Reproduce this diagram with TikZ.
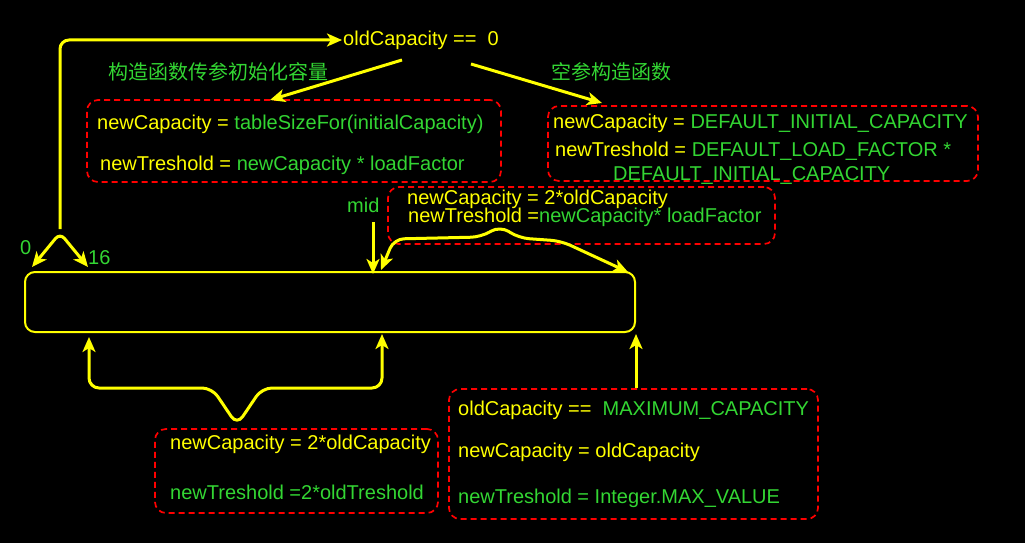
\documentclass[tikz,border=0pt]{standalone}
\usepackage{fontspec}
\setmainfont{Liberation Sans}
\newfontfamily\cjk{Noto Sans CJK SC}
\usetikzlibrary{arrows.meta}
\definecolor{yel}{RGB}{255,255,0}
\definecolor{grn}{RGB}{51,214,51}
\definecolor{dred}{RGB}{255,0,0}
\begin{document}
\begin{tikzpicture}[x=1pt,y=-1pt,
  yl/.style={draw=yel, line width=3pt, line join=round},
  tip/.tip={Stealth[length=15pt,width=13pt,inset=4pt]},
  arr/.style={yl, -tip},
  arrb/.style={yl, tip-tip},
  dbox/.style={draw=dred, line width=1.7pt, dash pattern=on 6pt off 4pt, rounded corners=11pt, inner sep=0pt},
  txt/.style={anchor=base west, inner sep=0pt, text=yel, font=\fontsize{20}{24}\selectfont},
  gtxt/.style={txt, text=grn},
  ctxt/.style={anchor=base west, inner sep=0pt, text=grn, font=\fontsize{20}{24}\selectfont\cjk}]
\fill[black] (0,0) rectangle (1025,543);
\useasboundingbox (0,0) rectangle (1025,543);

% main box
\node[draw=yel, line width=2pt, rounded corners=10pt, minimum width=610pt, minimum height=60pt, inner sep=0pt] (mainbox) at (330,302) {};

% dashed boxes
\node[dbox, minimum width=414pt, minimum height=82pt] (b1) at (294,141) {};
\node[dbox, minimum width=430pt, minimum height=75pt] (b2) at (763,143.5) {};
\node[dbox, minimum width=387pt, minimum height=57pt] (b3) at (581.5,215.5) {};
\node[dbox, minimum width=283pt, minimum height=84pt] (b4) at (296.5,471) {};
\node[dbox, minimum width=369pt, minimum height=130pt] (b5) at (633.5,454) {};

% texts
\node[txt] (oc) at (343,46) {oldCapacity ==\ \ 0};
\node[ctxt] (cn1) at (108,80) {构造函数传参初始化容量};
\node[ctxt] (cn2) at (551,80) {空参构造函数};

\node[txt] (t11) at (97,129) {newCapacity = \textcolor{grn}{tableSizeFor(initialCapacity)}};
\node[txt] (t12) at (100,170) {newTreshold = \textcolor{grn}{newCapacity * loadFactor}};

\node[txt] (t21) at (553,128) {newCapacity = \textcolor{grn}{DEFAULT\_INITIAL\_CAPACITY}};
\node[txt] (t22) at (555,156) {newTreshold = \textcolor{grn}{DEFAULT\_LOAD\_FACTOR *}};
\node[gtxt] (t23) at (613,180) {DEFAULT\_INITIAL\_CAPACITY};

\node[txt] (t31) at (407,204) {newCapacity = 2*oldCapacity};
\node[txt] (t32) at (408,222) {newTreshold =\textcolor{grn}{newCapacity* loadFactor}};

\node[gtxt] (mid) at (347,212) {mid};
\node[gtxt] (zero) at (20,254) {0};
\node[gtxt] (sixteen) at (88,264) {16};

\node[txt] (t41) at (170,449) {newCapacity = 2*oldCapacity};
\node[gtxt] (t42) at (170,499) {newTreshold =2*oldTreshold};

\node[txt] (t51) at (458,415) {oldCapacity ==\ \ \textcolor{grn}{MAXIMUM\_CAPACITY}};
\node[txt] (t52) at (458,457) {newCapacity = oldCapacity};
\node[gtxt] (t53) at (458,503) {newTreshold = Integer.MAX\_VALUE};

% connector coordinates
\coordinate (split) at (60,233);
\coordinate (ocin) at (342,40);
\coordinate (lout) at (402,60);
\coordinate (b1in) at (270,100);
\coordinate (rout) at (471,64);
\coordinate (b2in) at (602,103);
\coordinate (midout) at (373,222);
\coordinate (midin) at (373,274);
\coordinate (b5out) at (636,388);
\coordinate (mainR) at (636,334);

% connectors
\draw[arr, rounded corners=9pt] ([yshift=4pt]split) -- (60,40) -- (ocin);
\draw[arrb, rounded corners=7pt] (32,267) -- (split) -- (88,267);
\draw[arr] (lout) -- (b1in);
\draw[arr] (rout) -- (b2in);
\draw[arr] (midout) -- (midin);
\draw[arrb, rounded corners=10pt] (381,270) -- (394,239) -- (481,237) -- (500,226) -- (519,238) -- (561,241) -- (628,272);
\draw[arr] (b5out) -- (mainR);
\draw[arrb, rounded corners=10pt] (89,337) -- (89,388) -- (212,388) -- (237,425) -- (262,388) -- (382,388) -- (382,334);
\end{tikzpicture}
\end{document}
